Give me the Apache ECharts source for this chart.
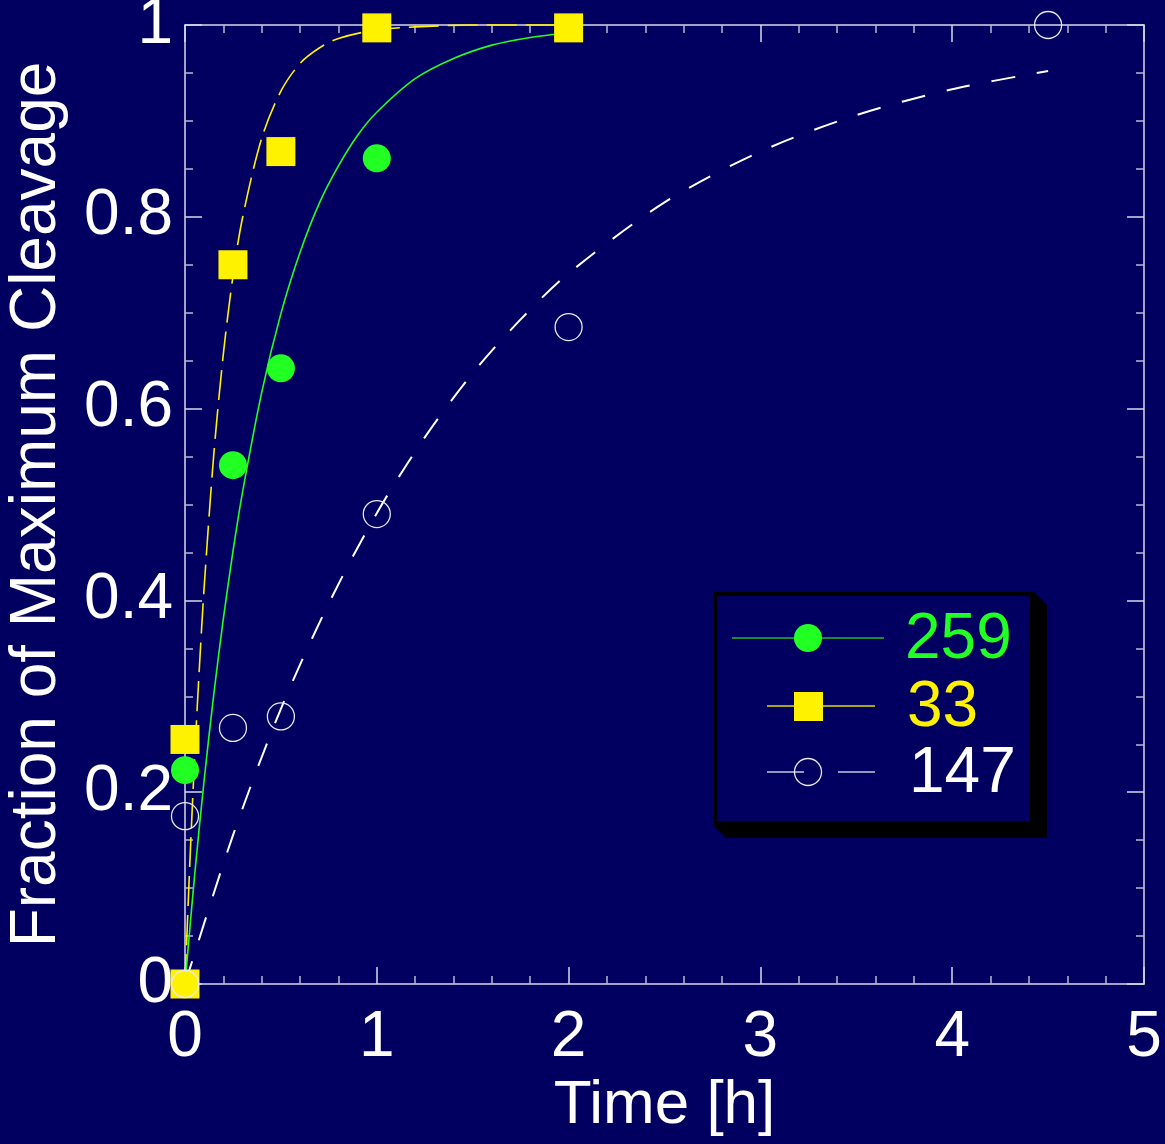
<!DOCTYPE html>
<html>
<head>
<meta charset="utf-8">
<script src="https://cdn.jsdelivr.net/npm/echarts@6/dist/echarts.min.js"></script>
<style>
html,body{margin:0;padding:0;background:#010060;}
#c{width:1165px;height:1144px;}
</style>
</head>
<body>
<div id="c"></div>
<script>
// ---- data ----
const seriesNames = ['259', '33', '147'];

const pts259 = [[0, 0], [0, 0.223], [0.25, 0.541], [0.5, 0.642], [1, 0.861]];
const pts33  = [[0, 0], [0, 0.255], [0.25, 0.75], [0.5, 0.868], [1, 0.997], [2, 0.997]];
const pts147 = [[0, 0], [0, 0.175], [0.25, 0.267], [0.5, 0.279], [1, 0.49], [2, 0.685], [4.5, 1.0]];

// fitted curves, values
const fitX259 = [0, 0.05, 0.1, 0.15, 0.2, 0.25, 0.3, 0.4, 0.5, 0.6, 0.7, 0.8, 0.9, 1.0, 1.2, 1.4, 1.6, 1.8, 2.0];
const fitY259 = [0, 0.113, 0.213, 0.302, 0.381, 0.451, 0.513, 0.617, 0.699, 0.763, 0.814, 0.853, 0.885, 0.909, 0.944, 0.965, 0.979, 0.987, 0.992];

const fitX33 = [0, 0.025, 0.05, 0.075, 0.1, 0.15, 0.2, 0.25, 0.3, 0.4, 0.5, 0.6, 0.7, 0.8, 1.0, 1.2, 1.5, 2.0];
const fitY33 = [0, 0.125, 0.235, 0.33, 0.414, 0.552, 0.657, 0.738, 0.799, 0.882, 0.931, 0.96, 0.976, 0.986, 0.995, 0.998, 1.0, 1.0];

const fitX147 = [0, 0.25, 0.5, 0.75, 1, 1.25, 1.5, 1.75, 2, 2.5, 3, 3.5, 4, 4.5];
const fitY147 = [0, 0.155, 0.287, 0.397, 0.491, 0.57, 0.637, 0.693, 0.741, 0.815, 0.868, 0.906, 0.933, 0.952];

const xTicks = [0, 1, 2, 3, 4, 5];
const yTicks = [0, 0.2, 0.4, 0.6, 0.8, 1];

// ---- styling ----
const BG = '#010060';
const GREEN = '#22ff22';
const YELLOW = '#fff200';
const WHITE = '#ffffff';
const AXIS = '#d8d8e8';
const FONT = '"Liberation Sans", Arial, Helvetica, sans-serif';

function zip(xs, ys) { return xs.map((x, i) => [x, ys[i]]); }

const chart = echarts.init(document.getElementById('c'), null, {renderer: 'canvas'});

const axisCommon = {
  type: 'value',
  axisLine: {show: true, onZero: false, lineStyle: {color: AXIS, width: 1.5}},
  axisTick: {show: true, inside: true, length: 17, lineStyle: {color: AXIS, width: 1.5}},
  minorTick: {show: true, length: 8, lineStyle: {color: '#b8b8d0', width: 1.5}},
  splitLine: {show: false},
  minorSplitLine: {show: false}
};

function fmt(v) { return String(Math.round(v * 10) / 10); }

const option = {
  backgroundColor: BG,
  animation: false,
  grid: {left: 185, right: 21, top: 25, bottom: 160, containLabel: false, outerBoundsMode: 'none'},
  xAxis: [
    Object.assign({}, axisCommon, {
      position: 'bottom', min: xTicks[0], max: xTicks[xTicks.length - 1], interval: 1,
      minorTick: Object.assign({}, axisCommon.minorTick, {splitNumber: 5}),
      axisLabel: {color: WHITE, fontSize: 64, fontFamily: FONT, margin: 22, formatter: fmt},
      name: 'Time [h]', nameLocation: 'middle', nameGap: 86,
      nameTextStyle: {color: WHITE, fontSize: 62, fontFamily: FONT}
    }),
    Object.assign({}, axisCommon, {
      position: 'top', min: xTicks[0], max: xTicks[xTicks.length - 1], interval: 1,
      minorTick: Object.assign({}, axisCommon.minorTick, {splitNumber: 5}),
      axisLabel: {show: false}
    })
  ],
  yAxis: [
    Object.assign({}, axisCommon, {
      position: 'left', min: yTicks[0], max: yTicks[yTicks.length - 1], interval: 0.2,
      minorTick: Object.assign({}, axisCommon.minorTick, {splitNumber: 4}),
      axisLabel: {color: WHITE, fontSize: 64, fontFamily: FONT, margin: 12, formatter: fmt},
      name: 'Fraction of Maximum Cleavage', nameLocation: 'middle', nameGap: 116, nameRotate: 90,
      nameTextStyle: {color: WHITE, fontSize: 64, fontFamily: FONT}
    }),
    Object.assign({}, axisCommon, {
      position: 'right', min: yTicks[0], max: yTicks[yTicks.length - 1], interval: 0.2,
      minorTick: Object.assign({}, axisCommon.minorTick, {splitNumber: 4}),
      axisLabel: {show: false}
    })
  ],
  series: [
    {
      name: seriesNames[1] + ' fit', type: 'line', data: zip(fitX33, fitY33), smooth: 0.3,
      showSymbol: false, clip: false, z: 2,
      lineStyle: {color: YELLOW, width: 1.6, type: [30, 9]}
    },
    {
      name: seriesNames[0] + ' fit', type: 'line', data: zip(fitX259, fitY259), smooth: 0.3,
      showSymbol: false, clip: false, z: 2,
      lineStyle: {color: GREEN, width: 1.6}
    },
    {
      name: seriesNames[2] + ' fit', type: 'line', data: zip(fitX147, fitY147), smooth: 0.3,
      showSymbol: false, clip: false, z: 2,
      lineStyle: {color: WHITE, width: 2, type: [24, 22]}
    },
    {
      name: seriesNames[0], type: 'scatter', data: pts259, symbol: 'circle', symbolSize: 28,
      clip: false, z: 3, itemStyle: {color: GREEN, opacity: 1}
    },
    {
      name: seriesNames[1], type: 'scatter', data: pts33, symbol: 'rect', symbolSize: 29,
      clip: false, z: 4, itemStyle: {color: YELLOW, opacity: 1}
    },
    {
      name: seriesNames[2], type: 'scatter', data: pts147, symbol: 'circle', symbolSize: 27,
      clip: false, z: 5, itemStyle: {color: 'rgba(0,0,0,0)', borderColor: '#e8e8f0', borderWidth: 1.3, opacity: 1}
    }
  ],
  graphic: [
    // legend shadow
    {type: 'polygon', z: 100, shape: {points: [[1034, 592], [1047, 605], [1047, 838], [726, 838], [713, 825]]},
     style: {fill: '#000000'}},
    // legend box
    {type: 'rect', z: 101, shape: {x: 715, y: 594, width: 317, height: 229},
     style: {fill: BG, stroke: '#000000', lineWidth: 4}},
    // row 1
    {type: 'line', z: 102, shape: {x1: 732, y1: 638, x2: 884, y2: 638}, style: {stroke: '#22bb22', lineWidth: 1.5}},
    {type: 'circle', z: 103, shape: {cx: 808, cy: 638, r: 14}, style: {fill: GREEN}},
    {type: 'text', z: 103, x: 905, y: 640, style: {text: seriesNames[0], fill: GREEN, fontSize: 64, fontFamily: FONT, textVerticalAlign: 'middle'}},
    // row 2
    {type: 'line', z: 102, shape: {x1: 767, y1: 706, x2: 875, y2: 706}, style: {stroke: '#e0d800', lineWidth: 1.5}},
    {type: 'rect', z: 103, shape: {x: 794, y: 692, width: 29, height: 29}, style: {fill: YELLOW}},
    {type: 'text', z: 103, x: 907, y: 708, style: {text: seriesNames[1], fill: YELLOW, fontSize: 64, fontFamily: FONT, textVerticalAlign: 'middle'}},
    // row 3
    {type: 'line', z: 102, shape: {x1: 767, y1: 772, x2: 804, y2: 772}, style: {stroke: '#c8c8e0', lineWidth: 1.5}},
    {type: 'line', z: 102, shape: {x1: 838, y1: 772, x2: 875, y2: 772}, style: {stroke: '#c8c8e0', lineWidth: 1.5}},
    {type: 'circle', z: 103, shape: {cx: 808, cy: 772, r: 13.5}, style: {fill: 'none', stroke: '#e8e8f0', lineWidth: 1.3}},
    {type: 'text', z: 103, x: 909, y: 774, style: {text: seriesNames[2], fill: WHITE, fontSize: 64, fontFamily: FONT, textVerticalAlign: 'middle'}}
  ]
};

chart.setOption(option);
</script>
</body>
</html>
